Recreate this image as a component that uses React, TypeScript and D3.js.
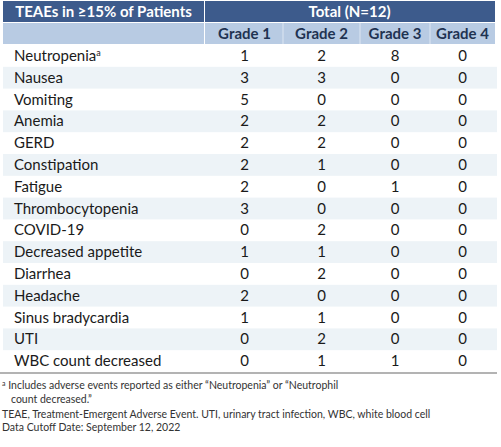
import React from "react";
import * as d3 from "d3";

const events = [
  "Neutropenia", "Nausea", "Vomiting", "Anemia", "GERD", "Constipation", "Fatigue",
  "Thrombocytopenia", "COVID-19", "Decreased appetite", "Diarrhea", "Headache",
  "Sinus bradycardia", "UTI", "WBC count decreased",
];
const grades = ["Grade 1", "Grade 2", "Grade 3", "Grade 4"];
const grade1 = [1, 3, 5, 2, 2, 2, 2, 3, 0, 1, 0, 2, 1, 0, 0];
const grade2 = [2, 3, 0, 2, 2, 1, 0, 0, 2, 1, 2, 0, 1, 2, 1];
const grade3 = [8, 0, 0, 0, 0, 0, 1, 0, 0, 0, 0, 0, 0, 0, 1];
const grade4 = [0, 0, 0, 0, 0, 0, 0, 0, 0, 0, 0, 0, 0, 0, 0];
const superscripts = ["a", "", "", "", "", "", "", "", "", "", "", "", "", "", ""];
const footnotes = [
  "Includes adverse events reported as either \u201cNeutropenia\u201d or \u201cNeutrophil",
  "count decreased.\u201d",
  "TEAE, Treatment-Emergent Adverse Event. UTI, urinary tract infection, WBC, white blood cell",
  "Data Cutoff Date: September 12, 2022",
];

const W = 501, H = 447;
const FONT = "Lato, 'Open Sans', sans-serif";

export default function App() {
  const values = [grade1, grade2, grade3, grade4];
  const left = 3, right = 497, splitX = 204, gradeRight = 495;
  const y = d3.scaleBand<number>().domain(d3.range(events.length)).range([45, 372]);
  const edges = [206, 283, 360, 430, 495];
  const colX = d3.scaleOrdinal<string, number>()
    .domain(grades)
    .range(grades.map((_, i) => (edges[i] + edges[i + 1]) / 2));
  const colLeft = d3.scaleOrdinal<string, number>().domain(grades).range(edges.slice(0, 4));
  const darkBlue = "#3d5b8c";
  const lightBlue = "#b8cbe3";
  const stripe = "#edf3f7";
  return (
    <svg width={W} height={H} style={{ position: "absolute", left: 0, top: 0 }} fontFamily={FONT}>
      <rect x={0} y={0} width={W} height={H} fill="#ffffff" />
      <rect x={left} y={1} width={splitX - left} height={21} fill={darkBlue} />
      <rect x={splitX + 1} y={1} width={gradeRight - splitX - 1} height={21} fill={darkBlue} />
      <rect x={left} y={23} width={splitX - left} height={21} fill={lightBlue} />
      <rect x={splitX + 1} y={23} width={gradeRight - splitX - 1} height={21} fill={lightBlue} />
      {grades.slice(1).map((g) => (
        <line key={g} x1={colLeft(g)} x2={colLeft(g)} y1={23} y2={44} stroke="#dde6f2" strokeWidth={1} />
      ))}
      <text x={(left + splitX) / 2} y={17} textAnchor="middle" fill="#ffffff" fontWeight="bold" fontSize={15}>
        TEAEs in ≥15% of Patients
      </text>
      <text x={(splitX + gradeRight) / 2} y={17} textAnchor="middle" fill="#ffffff" fontWeight="bold" fontSize={15}>
        Total (N=12)
      </text>
      {grades.map((g) => (
        <text key={g} x={colX(g)} y={39} textAnchor="middle" fill="#1f3352" fontWeight="bold" fontSize={15}>
          {g}
        </text>
      ))}
      {events.map((e, i) => (
        <g key={e}>
          {i % 2 === 1 && (
            <rect x={left} y={y(i)!} width={right - left} height={y.bandwidth()} fill={stripe} />
          )}
          <text x={14} y={y(i)! + y.bandwidth() / 2 + 5} fill="#1a1a1a" fontSize={15}>
            {e}
            {superscripts[i] && (
              <tspan fontSize={9} dy={-5}>{superscripts[i]}</tspan>
            )}
          </text>
          {values.map((col, j) => (
            <text key={j} x={colX(grades[j])} y={y(i)! + y.bandwidth() / 2 + 5}
              textAnchor="middle" fill="#1a1a1a" fontSize={15}>
              {col[i]}
            </text>
          ))}
        </g>
      ))}
      <line x1={0} x2={right} y1={373} y2={373} stroke="#9a9a9a" strokeWidth={1.5} />
      <text x={2} y={389} fontSize={10.5} fill="#333333">
        <tspan fontSize={7} dy={-3}>a</tspan>
        <tspan dy={3}> {footnotes[0]}</tspan>
      </text>
      <text x={11} y={403} fontSize={10.5} fill="#333333">{footnotes[1]}</text>
      <text x={2} y={418} fontSize={10.5} fill="#333333">{footnotes[2]}</text>
      <text x={2} y={431} fontSize={10.5} fill="#333333">{footnotes[3]}</text>
    </svg>
  );
}
